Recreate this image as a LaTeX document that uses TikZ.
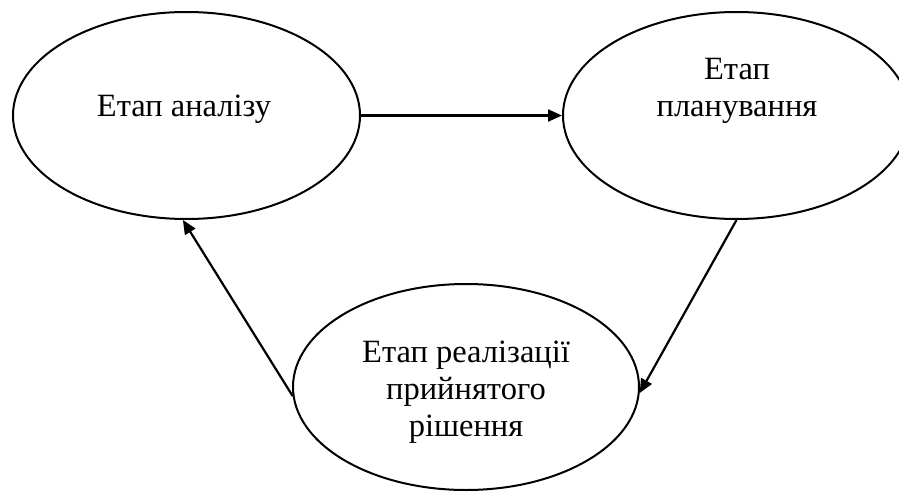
\documentclass[tikz,border=0pt]{standalone}
\usepackage{fontspec}
\setmainfont{Liberation Serif}
\usetikzlibrary{shapes.geometric,arrows.meta}
\begin{document}
\begin{tikzpicture}[x=1pt,y=1pt,
  stage/.style={draw=black, line width=2pt, ellipse, inner sep=0pt,
    minimum width=347pt, minimum height=207pt},
  txt/.style={font=\fontsize{32.5}{37}\selectfont, align=center, inner sep=0pt, anchor=base},
  conn/.style={line width=2.2pt, -{Triangle[length=14pt,width=12pt]}}]
\useasboundingbox (0,0) rectangle (899,491);
\clip (0,0) rectangle (899,491);
\node[stage] (L) at (186.5,375.5) {};
\node[stage] (R) at (736.5,375.5) {};
\node[stage, minimum width=346pt, minimum height=206pt] (B) at (466,104) {};
\node[txt] (Lt) at (184,374) {Етап аналізу};
\node[txt] (Rt) at (737,374) {Етап\\планування};
\node[txt] (Bt) at (466,55) {Етап реалізації\\прийнятого\\рішення};
\draw[conn] (L.east) -- (R.west);
\draw[conn] (R.270) -- (B.358);
\draw[conn] (B.183) -- (L.268);
\end{tikzpicture}
\end{document}
